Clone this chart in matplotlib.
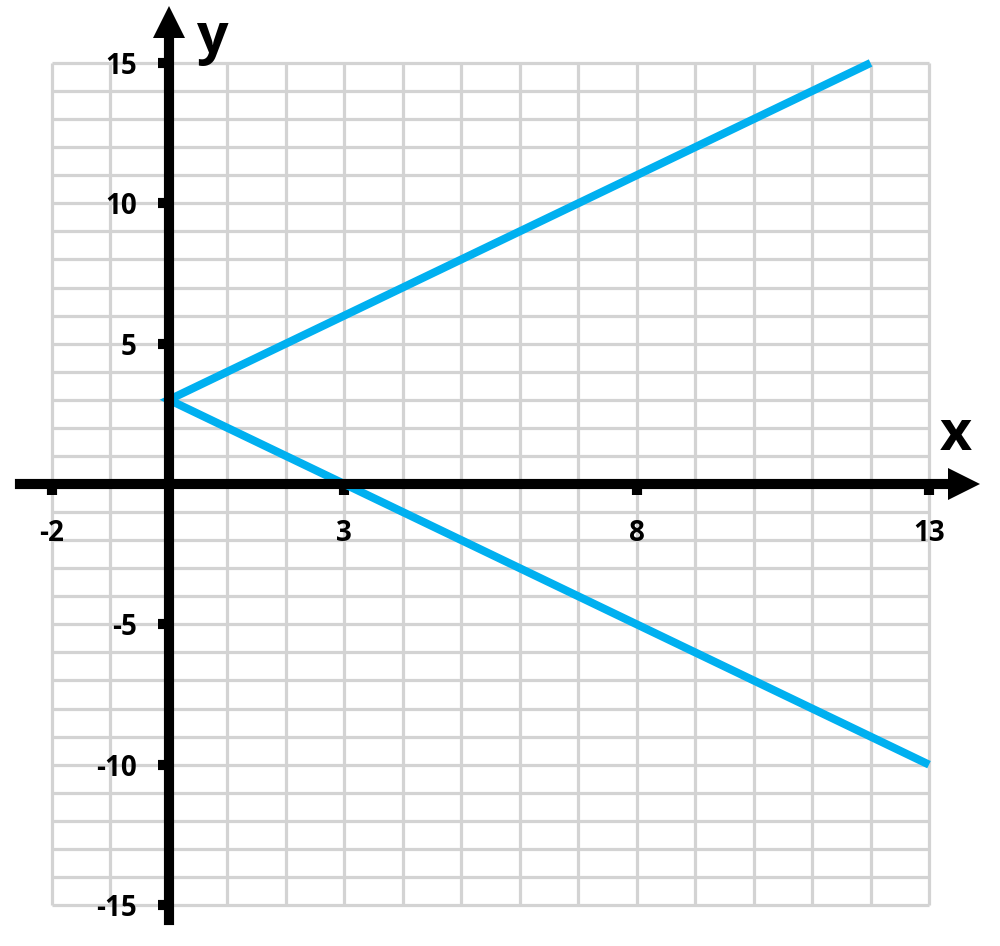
import matplotlib
matplotlib.use("Agg")
import matplotlib.pyplot as plt
import numpy as np

plt.rcParams["axes.unicode_minus"] = False

# ---- data ----
curve_x = [12, 0, 13]          # x = |y - 3|
curve_y = [15, 3, -10]
x_ticks = [-2, 3, 8, 13]
y_ticks = [-15, -10, -5, 5, 10, 15]
grid_x = np.arange(-2, 14, 1)
grid_y = np.arange(-15, 16, 1)

# ---- layout ----
W, H = 1000, 946
fig = plt.figure(figsize=(W / 100, H / 100), dpi=100)
ax = fig.add_axes([0, 0, 1, 1])
XL, XR = -2.889, 14.214
YB, YT = -16.461, 17.244
ax.set_xlim(XL, XR)
ax.set_ylim(YB, YT)
sx = W / (XR - XL)      # px per x unit
sy = H / (YT - YB)      # px per y unit

FONT = "Open Sans"
grid_color = "#d3d3d3"
blue = "#00b0f0"

# grid (bounded)
ax.vlines(grid_x, grid_y[0], grid_y[-1], color=grid_color, lw=2.3, zorder=1)
ax.hlines(grid_y, grid_x[0], grid_x[-1], color=grid_color, lw=2.3, zorder=1)

# curve
ax.plot(curve_x, curve_y, color=blue, lw=5.8, solid_capstyle="butt",
        solid_joinstyle="miter", zorder=3)

# axes as spines through origin
for s in ["top", "right"]:
    ax.spines[s].set_visible(False)
for s in ["left", "bottom"]:
    ax.spines[s].set_position(("data", 0))
    ax.spines[s].set_linewidth(7.3)
    ax.spines[s].set_color("black")
    ax.spines[s].set_zorder(4)
ax.spines["bottom"].set_bounds(XL + 20 / sx, XL + 950 / sx)
ax.spines["left"].set_bounds(YT - 920 / sy, YT - 36 / sy)
ax.set_axisbelow(False)

ax.set_xticks(x_ticks)
ax.set_yticks(y_ticks)
ax.tick_params(axis="both", direction="out", length=8, width=7.3, color="black")
ax.tick_params(axis="y", pad=15)
ax.tick_params(axis="x", pad=17)
for lab in ax.get_xticklabels() + ax.get_yticklabels():
    lab.set_fontfamily(FONT)
    lab.set_fontweight("bold")
    lab.set_fontsize(20)
    lab.set_color("black")

# arrowheads
ax.plot(XL + (980 - 16) / sx, 0, marker=">", ms=23, color="black", mew=0,
        clip_on=False, zorder=5)
ax.plot(0, YT - (6 + 16) / sy, marker="^", ms=23, color="black", mew=0,
        clip_on=False, zorder=5)

# axis names
ax.text(XL + 956 / sx, YT - 436 / sy, "x", fontsize=40, fontweight="bold",
        fontfamily=FONT, ha="center", va="center")
ax.text(XL + 212 / sx, YT - 38 / sy, "y", fontsize=40, fontweight="bold",
        fontfamily=FONT, ha="center", va="center")

fig.savefig("out.png", dpi=100)
